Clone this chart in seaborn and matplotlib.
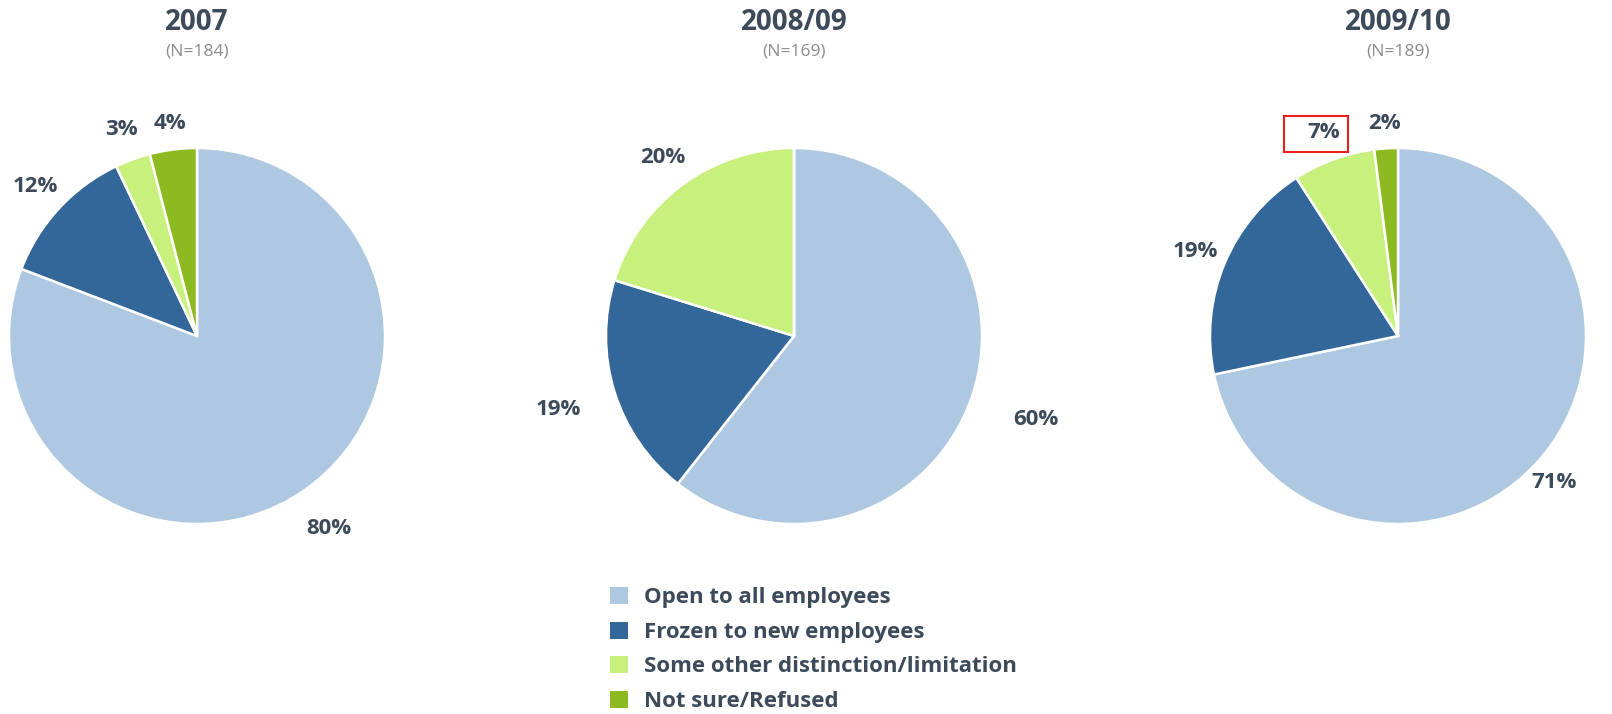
import numpy as np
import matplotlib
matplotlib.use("Agg")
import matplotlib.pyplot as plt
import matplotlib.patches as mpatches
import seaborn as sns

## data
categories = ["Open to all employees", "Frozen to new employees",
              "Some other distinction/limitation", "Not sure/Refused"]
years = ["2007", "2008/09", "2009/10"]
sample_sizes = ["(N=184)", "(N=169)", "(N=189)"]
vals_2007 = [80, 12, 3, 4]
vals_2008 = [60, 19, 20, 0]
vals_2009 = [71, 19, 7, 2]
all_vals = [vals_2007, vals_2008, vals_2009]

colors = ["#AEC8E2", "#336699", "#C8F07C", "#8DBA21"]
dark = "#3C4A5A"
# how far out each label sits (in pie radii), like excel's "best fit"
label_dist = [[1.24, 1.17, 1.17, 1.14],
              [1.36, 1.31, 1.18, 1.15],
              [1.14, 1.17, 1.15, 1.13]]

sns.set_theme(style="white")
plt.rcParams['font.family'] = ['Open Sans', 'DejaVu Sans']

fig = plt.figure(figsize=(16.12, 7.14), dpi=100)
W, H = 1612, 714
R = 188          # pie radius in px
lim = 1.35
centers_x = [197, 794, 1398]
center_y = 336
boxed = None

for i, vals in enumerate(all_vals):
    size = 2 * lim * R
    ax = fig.add_axes([(centers_x[i] - size / 2) / W, (H - center_y - size / 2) / H,
                       size / W, size / H])
    wedges, _ = ax.pie(vals, colors=colors, startangle=90, counterclock=False,
                       wedgeprops=dict(edgecolor="white", linewidth=1.8))
    for j, (w, v) in enumerate(zip(wedges, vals)):
        if v == 0:
            continue
        ang = np.deg2rad((w.theta1 + w.theta2) / 2)
        if i == 2 and j == 0:
            ang -= np.deg2rad(4)   # excel nudges this one a bit lower
        d = label_dist[i][j]
        t = ax.text(d * np.cos(ang), d * np.sin(ang), f"{v}%", ha="center", va="center",
                    fontsize=16, fontweight="bold", color=dark)
        if i == 2 and j == 2:
            boxed = t
    ax.set_xlim(-lim, lim)
    ax.set_ylim(-lim, lim)
    ax.set_aspect("equal")
    ax.axis("off")

    fig.text(centers_x[i] / W, 1 - 22 / H, years[i], ha="center", va="center",
             fontsize=20, fontweight="bold", color=dark)
    fig.text(centers_x[i] / W, 1 - 52 / H, sample_sizes[i], ha="center", va="center",
             fontsize=12.5, color="#8C8C8C")

handles = [mpatches.Patch(facecolor=c, edgecolor="none") for c in colors]
leg = fig.legend(handles, categories, loc="upper left", bbox_to_anchor=(610 / W, 1 - 587 / H),
                 frameon=False, handlelength=0.8, handleheight=0.8, handletextpad=0.75,
                 labelspacing=0.6, borderaxespad=0, borderpad=0,
                 prop=dict(size=16, weight="bold"))
for txt in leg.get_texts():
    txt.set_color(dark)

# red highlight box around the 7% label
fig.canvas.draw()
bb = boxed.get_window_extent()
x0, y0 = bb.x0 - 24, bb.y0 - 9
rect = mpatches.Rectangle((x0 / W, y0 / H), (bb.width + 32) / W, (bb.height + 15) / H,
                          transform=fig.transFigure, fill=False,
                          edgecolor="#E8201E", linewidth=1.5)
fig.patches.append(rect)

plt.savefig("out.png", dpi=100)
